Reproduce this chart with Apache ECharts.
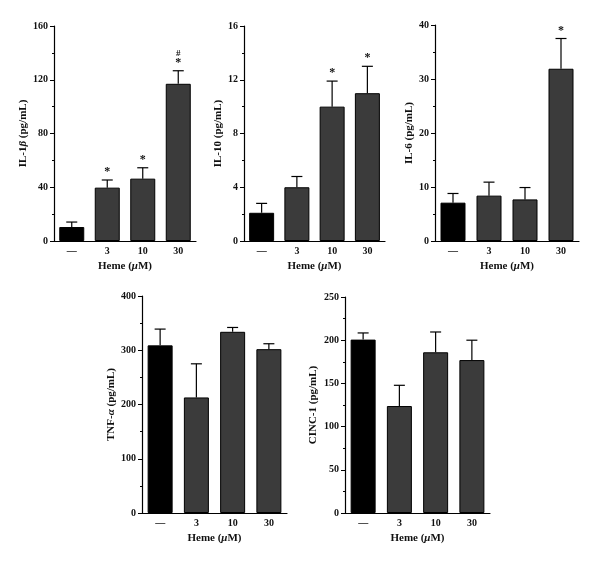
<!DOCTYPE html>
<html>
<head>
<meta charset="utf-8">
<script src="https://cdn.jsdelivr.net/npm/echarts@6/dist/echarts.min.js"></script>
<style>html,body{margin:0;padding:0;background:#fff}#c{width:600px;height:563px}</style>
</head>
<body>
<div id="c"></div>
<script>
const categories = ['—', '3', '10', '30'];

const il1bMean = [10.4, 39.7, 46.4, 117];
const il1bSem = [3.7, 5.7, 8.1, 9.7];
const il1bMarks = ['', '*', '*', '#\n*'];

const il10Mean = [2.1, 4.0, 10.0, 11.0];
const il10Sem = [0.7, 0.8, 1.9, 2.0];
const il10Marks = ['', '', '*', '*'];

const il6Mean = [7.1, 8.4, 7.7, 31.9];
const il6Sem = [1.7, 2.5, 2.2, 5.6];
const il6Marks = ['', '', '', '*'];

const tnfMean = [309, 213, 334, 302];
const tnfSem = [30, 62, 8, 10];
const tnfMarks = ['', '', '', ''];

const cincMean = [200.7, 123.8, 186, 177];
const cincSem = [7.7, 24, 23.5, 23];
const cincMarks = ['', '', '', ''];

const FONT = 'Liberation Serif';

const panels = [
  {mean: il1bMean, sem: il1bSem, marks: il1bMarks, max: 160, interval: 40, name: ['IL-1', 'β', ' (pg/mL)'],
   grid: {left: 54, top: 26, width: 142, height: 215}, nameGap: 19},
  {mean: il10Mean, sem: il10Sem, marks: il10Marks, max: 16, interval: 4, name: ['IL-10 (pg/mL)'],
   grid: {left: 244, top: 26, width: 141, height: 215}, nameGap: 19},
  {mean: il6Mean, sem: il6Sem, marks: il6Marks, max: 40, interval: 10, name: ['IL-6 (pg/mL)'],
   grid: {left: 435, top: 25, width: 144, height: 216}, nameGap: 19},
  {mean: tnfMean, sem: tnfSem, marks: tnfMarks, max: 400, interval: 100, name: ['TNF-', 'α', ' (pg/mL)'],
   grid: {left: 142, top: 296, width: 145, height: 217}, nameGap: 23},
  {mean: cincMean, sem: cincSem, marks: cincMarks, max: 250, interval: 50, name: ['CINC-1 (pg/mL)'],
   grid: {left: 345, top: 297, width: 145, height: 216}, nameGap: 26}
];

function yName(parts) {
  if (parts.length === 1) return parts[0];
  return parts[0] + '{i|' + parts[1] + '}' + parts[2];
}

const grids = [], xAxes = [], yAxes = [], series = [];
panels.forEach((p, i) => {
  grids.push(Object.assign({containLabel: false}, p.grid));
  xAxes.push({
    type: 'category', gridIndex: i, data: categories,
    name: 'Heme ({i|μ}M)', nameLocation: 'middle', nameGap: 20,
    nameTextStyle: {fontFamily: FONT, fontWeight: 'bold', fontSize: 11, color: '#111',
      rich: {i: {fontFamily: FONT, fontStyle: 'italic', fontWeight: 'bold', fontSize: 11, color: '#111'}}},
    axisLine: {lineStyle: {color: '#000', width: 1.2}},
    axisTick: {show: false},
    axisLabel: {fontFamily: FONT, fontWeight: 'bold', fontSize: 10, color: '#111', margin: 5}
  });
  yAxes.push({
    type: 'value', gridIndex: i, min: 0, max: p.max, interval: p.interval,
    name: yName(p.name), nameLocation: 'middle', nameGap: p.nameGap,
    nameTextStyle: {fontFamily: FONT, fontWeight: 'bold', fontSize: 11, color: '#111',
      rich: {i: {fontFamily: FONT, fontStyle: 'italic', fontWeight: 'bold', fontSize: 11, color: '#111'}}},
    axisLine: {show: true, lineStyle: {color: '#000', width: 1.2}},
    axisTick: {show: true, length: 4, lineStyle: {color: '#000'}},
    minorTick: {show: true, splitNumber: 2, length: 2, lineStyle: {color: '#000'}},
    splitLine: {show: false},
    axisLabel: {fontFamily: FONT, fontWeight: 'bold', fontSize: 10, color: '#111', margin: 6}
  });
  series.push({
    type: 'bar', xAxisIndex: i, yAxisIndex: i, barWidth: 25,
    data: p.mean.map((v, k) => ({value: v, itemStyle: {color: k === 0 ? '#000' : '#3b3b3b'}})),
    itemStyle: {borderColor: '#000', borderWidth: 1},
    silent: true, animation: false
  });
  series.push({
    type: 'custom', xAxisIndex: i, yAxisIndex: i, z: 5, animation: false, silent: true,
    data: p.mean.map((v, k) => [k, v, v + p.sem[k], p.marks[k]]),
    renderItem: function (params, api) {
      const x = api.value(0), v = api.value(1), top = api.value(2);
      const mark = p.marks[params.dataIndex];
      const a = api.coord([x, v]);
      const b = api.coord([x, top]);
      const children = [
        {type: 'line', shape: {x1: a[0], y1: a[1], x2: b[0], y2: b[1]}, style: {stroke: '#000', lineWidth: 1.2}},
        {type: 'line', shape: {x1: b[0] - 5.5, y1: b[1], x2: b[0] + 5.5, y2: b[1]}, style: {stroke: '#000', lineWidth: 1.2}}
      ];
      if (mark) {
        const lines = mark.split('\n');
        lines.reverse().forEach((t, j) => {
          children.push({type: 'text', style: {text: t, x: b[0], y: b[1] - 2 - j * 11,
            textAlign: 'center', textVerticalAlign: 'bottom',
            font: 'bold ' + (t === '*' ? 12 : 9) + 'px "' + FONT + '"', fill: '#111'}});
        });
      }
      return {type: 'group', children: children};
    }
  });
});

const chart = echarts.init(document.getElementById('c'), null, {renderer: 'canvas'});
chart.setOption({backgroundColor: '#fff', animation: false, grid: grids, xAxis: xAxes, yAxis: yAxes, series: series});
</script>
</body>
</html>
